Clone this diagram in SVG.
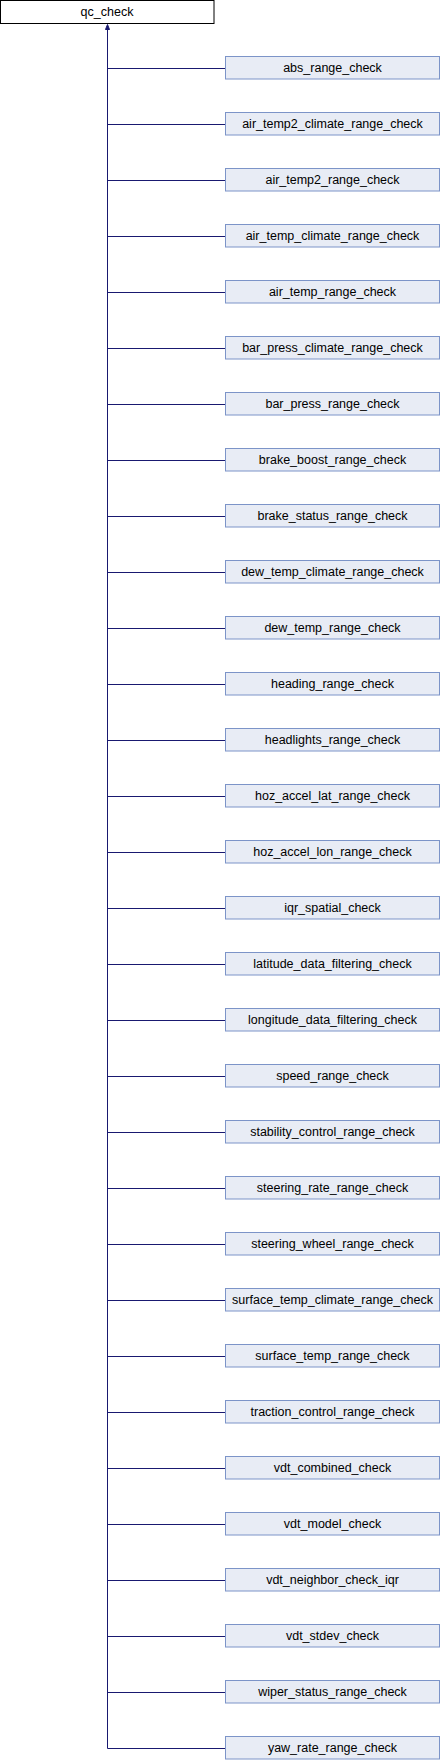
<svg xmlns="http://www.w3.org/2000/svg" width="440" height="1760" viewBox="0 0 440 1760">
<style>
.n rect{fill:#e8ecf5;stroke:#7c94c8;stroke-width:1}
.r rect{fill:#ffffff;stroke:#000000;stroke-width:1}
text{font-family:"Liberation Sans",Arial,sans-serif;font-size:12.5px;fill:#000;text-anchor:middle}
.e{stroke:#191970;stroke-width:1;fill:none}
.ah{fill:#191970;stroke:#191970;stroke-width:1}
</style>
<g id="connectors">
<path class="e" d="M107.5,1748.5 V29"/>
<polygon class="ah" points="107.5,24.5 105.5,29.5 109.5,29.5"/>
<path class="e" d="M107.5,68.5 H225.5 M107.5,124.5 H225.5 M107.5,180.5 H225.5 M107.5,236.5 H225.5 M107.5,292.5 H225.5 M107.5,348.5 H225.5 M107.5,404.5 H225.5 M107.5,460.5 H225.5 M107.5,516.5 H225.5 M107.5,572.5 H225.5 M107.5,628.5 H225.5 M107.5,684.5 H225.5 M107.5,740.5 H225.5 M107.5,796.5 H225.5 M107.5,852.5 H225.5 M107.5,908.5 H225.5 M107.5,964.5 H225.5 M107.5,1020.5 H225.5 M107.5,1076.5 H225.5 M107.5,1132.5 H225.5 M107.5,1188.5 H225.5 M107.5,1244.5 H225.5 M107.5,1300.5 H225.5 M107.5,1356.5 H225.5 M107.5,1412.5 H225.5 M107.5,1468.5 H225.5 M107.5,1524.5 H225.5 M107.5,1580.5 H225.5 M107.5,1636.5 H225.5 M107.5,1692.5 H225.5 M107.5,1748.5 H225.5"/>
</g>
<g id="qc_check" class="r"><rect x="0.5" y="0.5" width="213.5" height="23"/><text x="107" y="15.5">qc_check</text></g>
<g id="abs_range_check" class="n"><rect x="225.5" y="56.5" width="214" height="22.5"/><text x="332.5" y="72">abs_range_check</text></g>
<g id="air_temp2_climate_range_check" class="n"><rect x="225.5" y="112.5" width="214" height="22.5"/><text x="332.5" y="128">air_temp2_climate_range_check</text></g>
<g id="air_temp2_range_check" class="n"><rect x="225.5" y="168.5" width="214" height="22.5"/><text x="332.5" y="184">air_temp2_range_check</text></g>
<g id="air_temp_climate_range_check" class="n"><rect x="225.5" y="224.5" width="214" height="22.5"/><text x="332.5" y="240">air_temp_climate_range_check</text></g>
<g id="air_temp_range_check" class="n"><rect x="225.5" y="280.5" width="214" height="22.5"/><text x="332.5" y="296">air_temp_range_check</text></g>
<g id="bar_press_climate_range_check" class="n"><rect x="225.5" y="336.5" width="214" height="22.5"/><text x="332.5" y="352">bar_press_climate_range_check</text></g>
<g id="bar_press_range_check" class="n"><rect x="225.5" y="392.5" width="214" height="22.5"/><text x="332.5" y="408">bar_press_range_check</text></g>
<g id="brake_boost_range_check" class="n"><rect x="225.5" y="448.5" width="214" height="22.5"/><text x="332.5" y="464">brake_boost_range_check</text></g>
<g id="brake_status_range_check" class="n"><rect x="225.5" y="504.5" width="214" height="22.5"/><text x="332.5" y="520">brake_status_range_check</text></g>
<g id="dew_temp_climate_range_check" class="n"><rect x="225.5" y="560.5" width="214" height="22.5"/><text x="332.5" y="576">dew_temp_climate_range_check</text></g>
<g id="dew_temp_range_check" class="n"><rect x="225.5" y="616.5" width="214" height="22.5"/><text x="332.5" y="632">dew_temp_range_check</text></g>
<g id="heading_range_check" class="n"><rect x="225.5" y="672.5" width="214" height="22.5"/><text x="332.5" y="688">heading_range_check</text></g>
<g id="headlights_range_check" class="n"><rect x="225.5" y="728.5" width="214" height="22.5"/><text x="332.5" y="744">headlights_range_check</text></g>
<g id="hoz_accel_lat_range_check" class="n"><rect x="225.5" y="784.5" width="214" height="22.5"/><text x="332.5" y="800">hoz_accel_lat_range_check</text></g>
<g id="hoz_accel_lon_range_check" class="n"><rect x="225.5" y="840.5" width="214" height="22.5"/><text x="332.5" y="856">hoz_accel_lon_range_check</text></g>
<g id="iqr_spatial_check" class="n"><rect x="225.5" y="896.5" width="214" height="22.5"/><text x="332.5" y="912">iqr_spatial_check</text></g>
<g id="latitude_data_filtering_check" class="n"><rect x="225.5" y="952.5" width="214" height="22.5"/><text x="332.5" y="968">latitude_data_filtering_check</text></g>
<g id="longitude_data_filtering_check" class="n"><rect x="225.5" y="1008.5" width="214" height="22.5"/><text x="332.5" y="1024">longitude_data_filtering_check</text></g>
<g id="speed_range_check" class="n"><rect x="225.5" y="1064.5" width="214" height="22.5"/><text x="332.5" y="1080">speed_range_check</text></g>
<g id="stability_control_range_check" class="n"><rect x="225.5" y="1120.5" width="214" height="22.5"/><text x="332.5" y="1136">stability_control_range_check</text></g>
<g id="steering_rate_range_check" class="n"><rect x="225.5" y="1176.5" width="214" height="22.5"/><text x="332.5" y="1192">steering_rate_range_check</text></g>
<g id="steering_wheel_range_check" class="n"><rect x="225.5" y="1232.5" width="214" height="22.5"/><text x="332.5" y="1248">steering_wheel_range_check</text></g>
<g id="surface_temp_climate_range_check" class="n"><rect x="225.5" y="1288.5" width="214" height="22.5"/><text x="332.5" y="1304">surface_temp_climate_range_check</text></g>
<g id="surface_temp_range_check" class="n"><rect x="225.5" y="1344.5" width="214" height="22.5"/><text x="332.5" y="1360">surface_temp_range_check</text></g>
<g id="traction_control_range_check" class="n"><rect x="225.5" y="1400.5" width="214" height="22.5"/><text x="332.5" y="1416">traction_control_range_check</text></g>
<g id="vdt_combined_check" class="n"><rect x="225.5" y="1456.5" width="214" height="22.5"/><text x="332.5" y="1472">vdt_combined_check</text></g>
<g id="vdt_model_check" class="n"><rect x="225.5" y="1512.5" width="214" height="22.5"/><text x="332.5" y="1528">vdt_model_check</text></g>
<g id="vdt_neighbor_check_iqr" class="n"><rect x="225.5" y="1568.5" width="214" height="22.5"/><text x="332.5" y="1584">vdt_neighbor_check_iqr</text></g>
<g id="vdt_stdev_check" class="n"><rect x="225.5" y="1624.5" width="214" height="22.5"/><text x="332.5" y="1640">vdt_stdev_check</text></g>
<g id="wiper_status_range_check" class="n"><rect x="225.5" y="1680.5" width="214" height="22.5"/><text x="332.5" y="1696">wiper_status_range_check</text></g>
<g id="yaw_rate_range_check" class="n"><rect x="225.5" y="1736.5" width="214" height="22.5"/><text x="332.5" y="1752">yaw_rate_range_check</text></g>
</svg>
